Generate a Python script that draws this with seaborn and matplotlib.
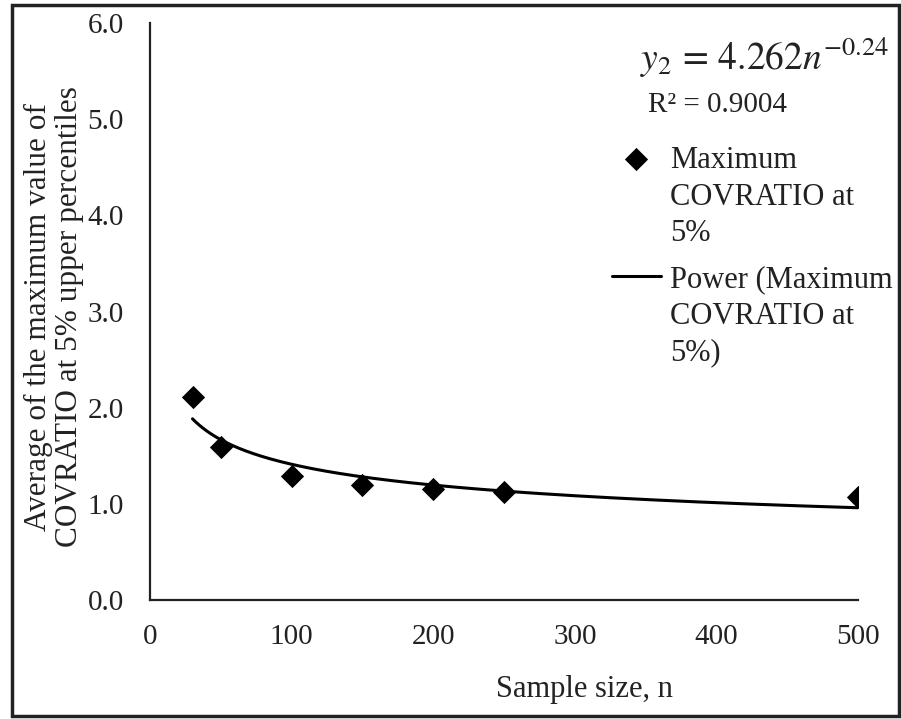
import numpy as np
import matplotlib
matplotlib.use("Agg")
import matplotlib.pyplot as plt
import seaborn as sns
from matplotlib.patches import Rectangle

# data
sample_size = [30, 50, 100, 150, 200, 250, 500]
max_covratio = [2.11, 1.59, 1.29, 1.20, 1.15, 1.12, 1.07]

# power trendline as printed on the chart: y2 = a * n^b
fit_a = 4.262
fit_b = -0.24
fit_r2 = 0.9004

sns.set_theme(style="white")
plt.rcParams['font.family'] = ['Liberation Serif', 'DejaVu Serif']
plt.rcParams['mathtext.fontset'] = 'stix'

fig = plt.figure(figsize=(9.01, 7.19), dpi=100)
ax = fig.add_axes([0.1665, 0.1655, 0.786, 0.8025])

n_fit = np.arange(sample_size[0], sample_size[-1] + 1)
y_fit = fit_a * n_fit ** fit_b

sns.scatterplot(x=sample_size, y=max_covratio, marker='D', color='black',
                s=140, edgecolor='black', linewidth=0, zorder=3,
                label='Maximum\nCOVRATIO at\n5%', ax=ax)
sns.lineplot(x=n_fit, y=y_fit, color='black', linewidth=2.2,
             label='Power (Maximum\nCOVRATIO at\n5%)', ax=ax)

ax.set_xlim(0, 500)
ax.set_ylim(0, 6)
ax.set_xticks([0, 100, 200, 300, 400, 500])
ax.set_yticks([0, 1, 2, 3, 4, 5, 6])
ax.set_yticklabels([f'{v:.1f}' for v in [0, 1, 2, 3, 4, 5, 6]])
ax.tick_params(axis='both', length=0, labelsize=21, colors='#222222')
ax.tick_params(axis='y', pad=19)
ax.tick_params(axis='x', pad=17)

for side in ['top', 'right']:
    ax.spines[side].set_visible(False)
for side in ['left', 'bottom']:
    ax.spines[side].set_linewidth(1.6)
    ax.spines[side].set_color('#222222')

ax.set_xlabel('Sample size, n', fontsize=22, color='#222222')
ax.xaxis.set_label_coords(0.614, -0.13)
ax.set_ylabel('')
fig.text(54 / 901, 1 - 317 / 719,
         'Average of the maximum value of\nCOVRATIO at 5% upper percentiles',
         rotation=90, ha='center', va='center', fontsize=22.5,
         color='#222222', linespacing=1.1)

fig.text(640 / 901, 1 - 58 / 719, r'$y_2\,=\,4.262n^{-0.24}$',
         ha='left', va='center', fontsize=27, color='#222222')
fig.text(648 / 901, 1 - 105 / 719, f'R² = {fit_r2}',
         ha='left', va='center', fontsize=21, color='#222222')

leg = ax.legend(loc='upper left', bbox_to_anchor=(612 / 901, 1 - 146 / 719),
                bbox_transform=fig.transFigure, frameon=False, fontsize=22,
                handlelength=1.6, handletextpad=0.3, labelspacing=0.55,
                borderaxespad=0, borderpad=0)
for t in leg.get_texts():
    t.set_color('#222222')
    t.set_linespacing(1.35)
# put each legend key next to the first line of its label
for column in leg._legend_handle_box.get_children():
    for row in column.get_children():
        row.align = 'top'

fig.add_artist(Rectangle((0.013, 0.004), 0.985, 0.989, transform=fig.transFigure,
                         fill=False, edgecolor='#222222', linewidth=2.5))

fig.savefig('out.png', dpi=100)
